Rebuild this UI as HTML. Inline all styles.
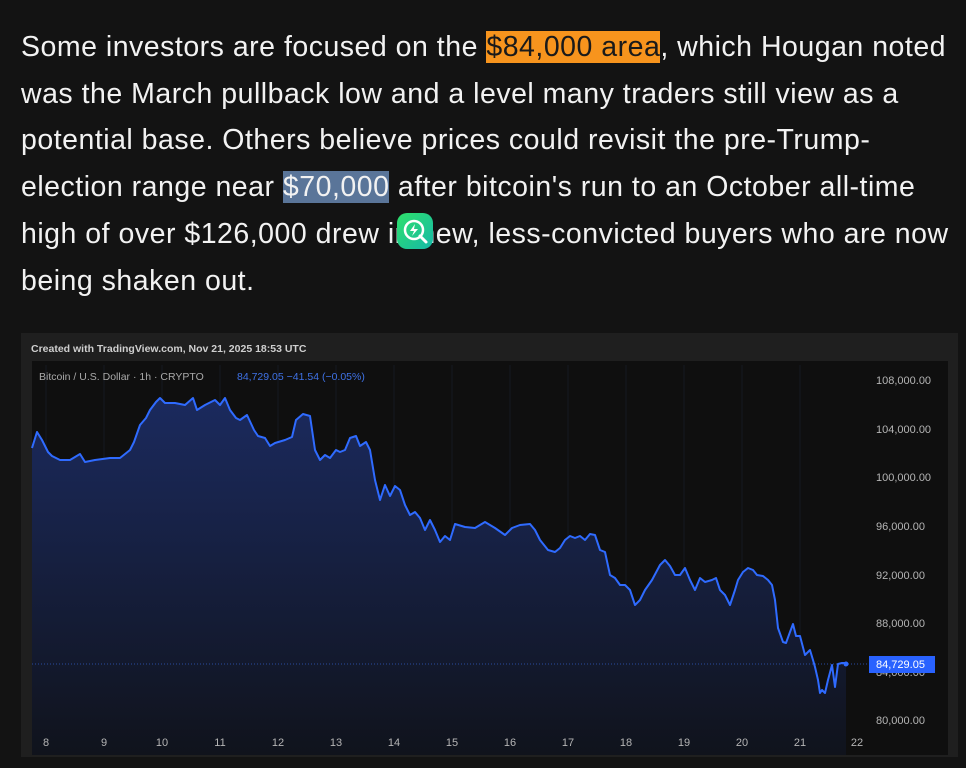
<!DOCTYPE html>
<html><head><meta charset="utf-8"><style>
html,body{margin:0;padding:0;background:#131313;width:966px;height:768px;overflow:hidden}
.txt{position:absolute;left:21px;top:24px;width:945px;font-family:"Liberation Sans",sans-serif;font-size:28.5px;letter-spacing:0.5px;line-height:46.7px;color:#f2f2f2;white-space:nowrap}
.o{background:#f7941d;color:#1a1a1a}
.b{background:#5a7599;color:#f2f2f2}
.icon{position:absolute;left:397px;top:213px;width:36px;height:36px;border-radius:10px;background:linear-gradient(135deg,#2ee06a,#16b9a8)}
</style></head><body>
<div class="txt">Some investors are focused on the <span class="o">$84,000 area</span>, which Hougan noted<br>was the March pullback low and a level many traders still view as a<br>potential base. Others believe prices could revisit the pre-Trump-<br>election range near <span class="b">$70,000</span> after bitcoin's run to an October all-time<br>high of over $126,000 drew in new, less-convicted buyers who are now<br>being shaken out.</div>
<div class="icon"><svg width="36" height="36"><circle cx="17" cy="17" r="9" fill="none" stroke="#fff" stroke-width="2.5"/><line x1="23" y1="23" x2="29" y2="29" stroke="#fff" stroke-width="3" stroke-linecap="round"/><path d="M18 11 L13 18 L17 18 L15 23 L21 16 L17 16 Z" fill="#fff"/></svg></div>
<svg style="position:absolute;left:0;top:0" width="966" height="768" font-family="Liberation Sans,sans-serif">
<defs><linearGradient id="g" x1="0" y1="0" x2="0" y2="1"><stop offset="0" stop-color="#1b2a5e"/><stop offset="1" stop-color="#10131c"/></linearGradient></defs>
<rect x="21" y="333" width="937" height="424" fill="#1f1f1f"/>
<rect x="32" y="361" width="916" height="394" fill="#0f0f0f"/>
<text x="31" y="352" font-size="10.5" font-weight="bold" fill="#cfcfcf">Created with TradingView.com, Nov 21, 2025 18:53 UTC</text>
<g stroke="#141821" stroke-width="1">
<line x1="46" y1="365" x2="46" y2="730"/><line x1="104" y1="365" x2="104" y2="730"/><line x1="162" y1="365" x2="162" y2="730"/><line x1="220" y1="365" x2="220" y2="730"/><line x1="278" y1="365" x2="278" y2="730"/><line x1="336" y1="365" x2="336" y2="730"/><line x1="394" y1="365" x2="394" y2="730"/><line x1="452" y1="365" x2="452" y2="730"/><line x1="510" y1="365" x2="510" y2="730"/><line x1="568" y1="365" x2="568" y2="730"/><line x1="626" y1="365" x2="626" y2="730"/><line x1="684" y1="365" x2="684" y2="730"/><line x1="742" y1="365" x2="742" y2="730"/><line x1="800" y1="365" x2="800" y2="730"/>
</g>
<text x="39" y="380" font-size="10.5" fill="#a9a9a9">Bitcoin / U.S. Dollar · 1h · CRYPTO</text>
<text x="237" y="380" font-size="10.5" fill="#3f72e6">84,729.05  −41.54 (−0.05%)</text>
<path d="M32,755 L32,448 37,432 42,440 48,452 52,456 60,460 70,460 80,454 85,462 95,460 110,458 120,458 130,450 134,442 140,425 146,418 150,410 156,402 160,398 165,403 175,403 185,405 193,398 197,410 205,405 215,400 220,405 225,398 230,410 236,418 240,420 247,415 254,430 258,436 265,438 270,446 275,443 285,440 292,437 296,420 303,414 310,416 315,450 320,460 325,455 330,458 336,450 340,452 345,450 350,438 356,436 360,446 366,442 370,450 375,480 380,500 385,485 390,496 395,486 400,490 405,505 410,515 415,512 420,518 425,530 430,520 435,530 440,542 445,536 450,540 455,524 465,527 475,528 485,522 495,528 505,535 512,528 520,525 530,524 535,530 540,540 548,550 555,552 560,548 565,540 570,536 575,538 580,536 585,540 590,534 595,535 600,550 605,552 610,575 615,578 620,585 625,585 630,590 635,605 640,600 645,590 652,580 660,565 665,560 670,566 675,575 680,575 685,568 690,580 695,590 700,578 705,582 712,580 716,578 720,590 725,595 730,605 735,590 738,580 743,572 748,568 753,570 757,575 763,576 768,580 772,585 775,600 778,628 783,642 786,643 790,632 793,624 796,636 800,636 805,655 810,650 813,660 815,667 818,680 820,693 822,690 825,693 828,680 832,665 835,687 838,664 842,663 846,663 L846,755 Z" fill="url(#g)"/>
<line x1="32" y1="664" x2="870" y2="664" stroke="#2a4aa0" stroke-width="1" stroke-dasharray="1,2"/>
<polyline fill="none" stroke="#2f6bff" stroke-width="2" stroke-linejoin="round" points="32,448 37,432 42,440 48,452 52,456 60,460 70,460 80,454 85,462 95,460 110,458 120,458 130,450 134,442 140,425 146,418 150,410 156,402 160,398 165,403 175,403 185,405 193,398 197,410 205,405 215,400 220,405 225,398 230,410 236,418 240,420 247,415 254,430 258,436 265,438 270,446 275,443 285,440 292,437 296,420 303,414 310,416 315,450 320,460 325,455 330,458 336,450 340,452 345,450 350,438 356,436 360,446 366,442 370,450 375,480 380,500 385,485 390,496 395,486 400,490 405,505 410,515 415,512 420,518 425,530 430,520 435,530 440,542 445,536 450,540 455,524 465,527 475,528 485,522 495,528 505,535 512,528 520,525 530,524 535,530 540,540 548,550 555,552 560,548 565,540 570,536 575,538 580,536 585,540 590,534 595,535 600,550 605,552 610,575 615,578 620,585 625,585 630,590 635,605 640,600 645,590 652,580 660,565 665,560 670,566 675,575 680,575 685,568 690,580 695,590 700,578 705,582 712,580 716,578 720,590 725,595 730,605 735,590 738,580 743,572 748,568 753,570 757,575 763,576 768,580 772,585 775,600 778,628 783,642 786,643 790,632 793,624 796,636 800,636 805,655 810,650 813,660 815,667 818,680 820,693 822,690 825,693 828,680 832,665 835,687 838,664 842,663 846,663"/>
<circle cx="846" cy="664" r="2.5" fill="#2f6bff"/>
<g font-size="11" fill="#b5b5b5">
<text x="876" y="384">108,000.00</text><text x="876" y="433">104,000.00</text><text x="876" y="481">100,000.00</text><text x="876" y="530">96,000.00</text><text x="876" y="579">92,000.00</text><text x="876" y="627">88,000.00</text><text x="876" y="676">84,000.00</text><text x="876" y="724">80,000.00</text>
</g>
<rect x="869" y="656" width="66" height="17" fill="#2962ff"/>
<text x="876" y="668" font-size="11" fill="#fff">84,729.05</text>
<g font-size="11" fill="#b5b5b5" text-anchor="middle">
<text x="46" y="746">8</text><text x="104" y="746">9</text><text x="162" y="746">10</text><text x="220" y="746">11</text><text x="278" y="746">12</text><text x="336" y="746">13</text><text x="394" y="746">14</text><text x="452" y="746">15</text><text x="510" y="746">16</text><text x="568" y="746">17</text><text x="626" y="746">18</text><text x="684" y="746">19</text><text x="742" y="746">20</text><text x="800" y="746">21</text><text x="857" y="746">22</text>
</g>
</svg>
</body></html>
